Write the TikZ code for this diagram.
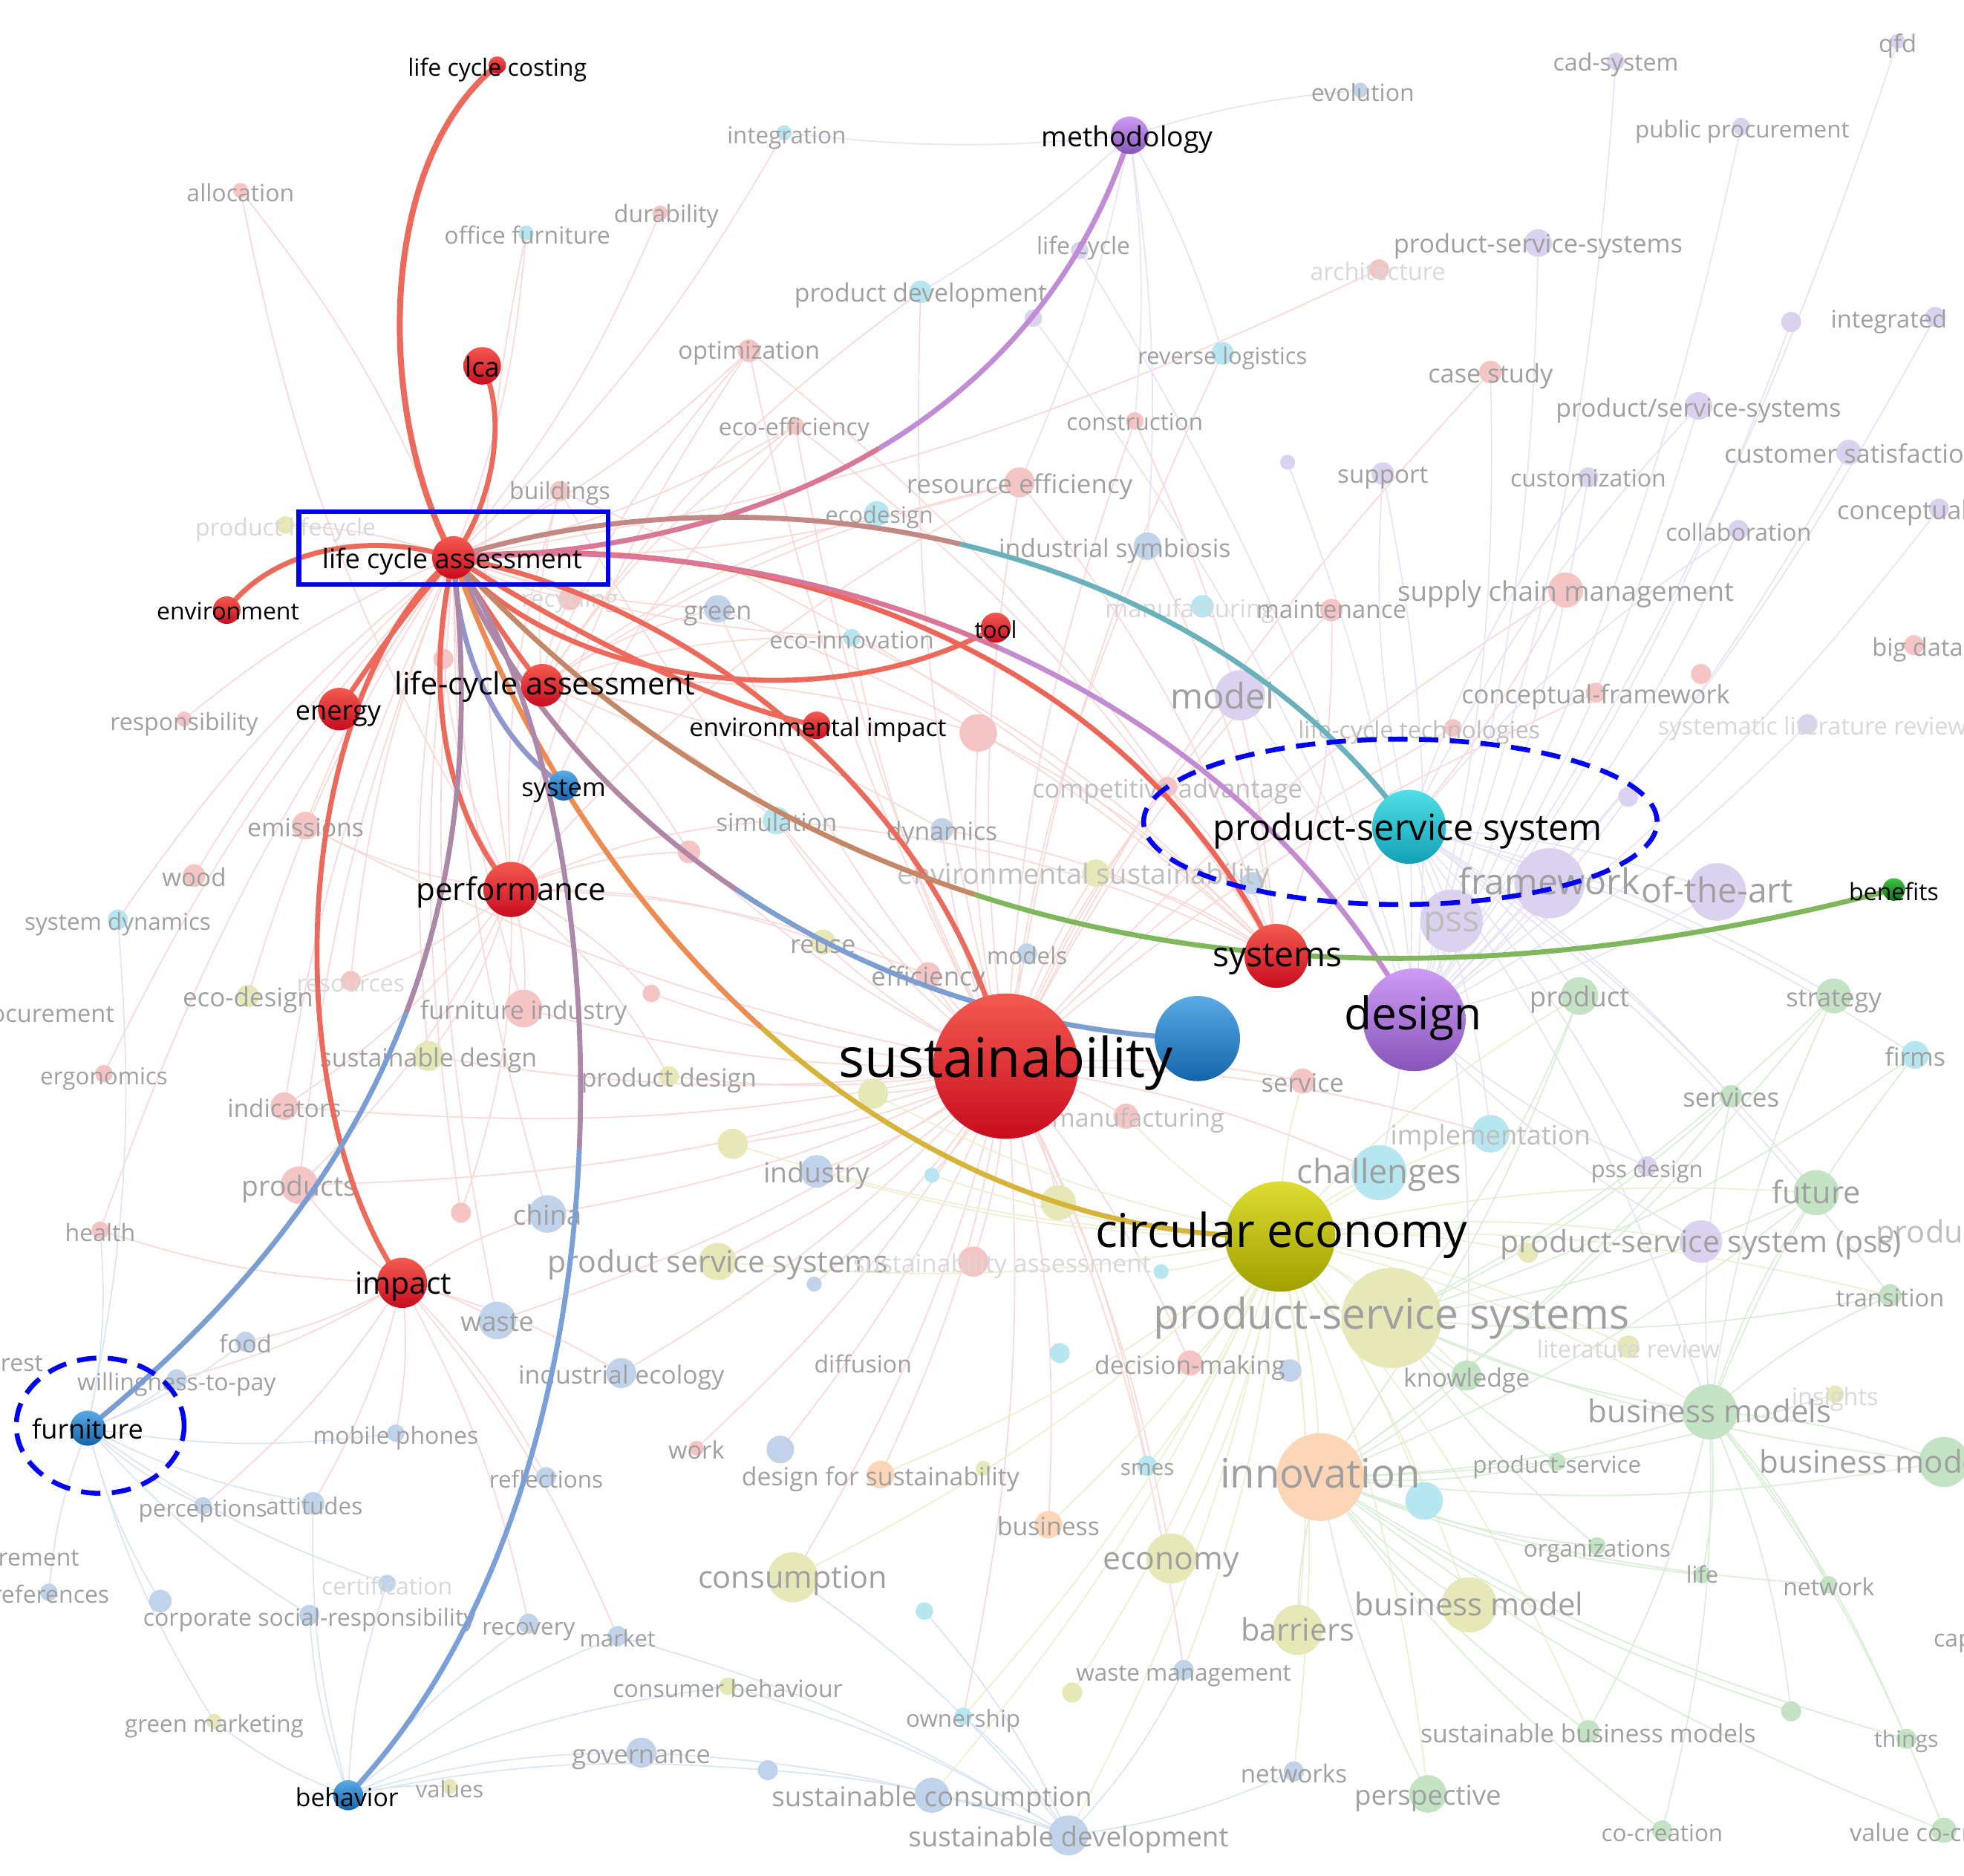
\documentclass[tikz,border=0pt]{standalone}
\usepackage{fontspec}
\setmainfont{Open Sans}
\usetikzlibrary{shapes.geometric}
\definecolor{fpink}{RGB}{245,196,196}
\definecolor{fcyan}{RGB}{182,230,239}
\definecolor{fblue}{RGB}{192,211,234}
\definecolor{fpurp}{RGB}{219,210,240}
\definecolor{folive}{RGB}{230,232,184}
\definecolor{fgreen}{RGB}{196,227,196}
\definecolor{forange}{RGB}{252,214,182}
\definecolor{lg}{RGB}{160,160,160}
\definecolor{mg}{RGB}{190,190,190}
\definecolor{gg}{RGB}{216,216,216}
\definecolor{webpink}{RGB}{249,216,216}
\definecolor{webgreen}{RGB}{218,237,214}
\definecolor{webpurp}{RGB}{232,226,245}
\definecolor{webblue}{RGB}{218,229,243}
\definecolor{webolive}{RGB}{238,238,208}
\definecolor{salmon}{RGB}{236,106,92}
\definecolor{hrtop}{RGB}{244,90,80}
\definecolor{hrbot}{RGB}{200,12,30}
\definecolor{hbtop}{RGB}{90,170,230}
\definecolor{hbbot}{RGB}{20,100,170}
\definecolor{hptop}{RGB}{205,155,245}
\definecolor{hpbot}{RGB}{135,85,185}
\definecolor{hctop}{RGB}{80,222,232}
\definecolor{hcbot}{RGB}{20,160,180}
\definecolor{hotop}{RGB}{220,220,50}
\definecolor{hobot}{RGB}{160,160,0}
\definecolor{hgtop}{RGB}{70,190,70}
\definecolor{hgbot}{RGB}{10,120,20}
\definecolor{markblue}{RGB}{0,0,245}
\pgfdeclarelayer{web}
\pgfdeclarelayer{faded}
\pgfdeclarelayer{hedges}
\pgfsetlayers{web,faded,hedges,main}
\tikzset{
  fdot/.style={circle,inner sep=0pt,draw=none},
  flab/.style={inner sep=0pt,text height=0.72em,text depth=0.22em},
  hnode/.style={circle,inner sep=0pt,draw=none},
  hred/.style={hnode,top color=hrtop,bottom color=hrbot},
  hblue/.style={hnode,top color=hbtop,bottom color=hbbot},
  hpurp/.style={hnode,top color=hptop,bottom color=hpbot},
  hcyan/.style={hnode,top color=hctop,bottom color=hcbot},
  holive/.style={hnode,top color=hotop,bottom color=hobot},
  hgreen/.style={hnode,top color=hgtop,bottom color=hgbot},
  hlab/.style={inner sep=0pt,text=black,text height=0.72em,text depth=0.22em},
  hedge/.style={line width=1.15pt,line cap=round},
  hseg/.style={line width=1.15pt,line cap=butt},
  webline/.style={line width=0.28pt},
  markring/.style={draw=markblue,line width=1.1pt,dash pattern=on 4.4pt off 2.6pt,ellipse,inner sep=0pt},
}
\begin{document}
\begin{tikzpicture}[x=0.1mm,y=-0.1mm]
\useasboundingbox (0,0) rectangle (1568,1497);
\begin{pgfonlayer}{web}
\fill[white] (0,0) rectangle (1568,1497);
\end{pgfonlayer}

% ---------------- faded keyword dots ----------------
\begin{pgfonlayer}{faded}
\foreach \n/\x/\y/\r/\c in {
alloc/192/152/6/fpink, offf/420/186/6/fcyan, integ/626/106/6/fcyan, dura/527/170/6/fpink,
lifec/862/200/7/fpurp, proddev/735/233/9/fcyan, purpA/825/254/7/fpurp, optim/598/280/9/fpink,
ecoeff/635/340/7/fpink, constr/906/336/7/fpink, revlog/976/282/9/fcyan, reseff/814/385/12/fpink,
ecodes/700/410/10/fcyan, build/447/392/8/fpink, prodlc/228/419/7/folive, recyc/455/478/9/fpink,
pinkA/354/526/8/fpink, green/573/486/11/fblue, ecoinn/680/509/7/fcyan, indsym/916/436/11/fblue,
manuf/960/484/9/fcyan, maint/1063/487/9/fpink, purpB/1028/369/6/fpurp, support/1104/378/9/fpurp,
evol/1086/72/6/fblue, cad/1290/49/7/fpurp, qfd/1515/33/6/fpurp, pubproc/1390/101/7/fpurp,
pssh/1228/194/11/fpurp, archi/1101/215/8/fpink, casest/1190/297/9/fpink, integr/1545/253/8/fpurp,
purpC/1430/257/8/fpurp, pssl/1356/324/11/fpurp, custom/1268/381/8/fpurp, custsat/1476/361/10/fpurp,
concept/1548/406/8/fpurp, collab/1388/423/8/fpurp, scm/1250/471/14/fpink, bigdata/1528/515/8/fpink,
concfw/1274/553/8/fpink, pinkB/1358/538/8/fpink, slr/1443/578/8/fpurp, lctech/1160/581/7/fpink,
model/990/555/20/fpurp, pinkC/781/585/15/fpink, compadv/932/628/8/fpink, simul/620/655/11/fcyan,
dynam/752/662/9/fblue, envsust/875/697/11/folive, pinkD/550/680/9/fpink, reuse/657/752/10/folive,
effic/741/778/10/fpink, models/820/761/8/fblue, blueE/1000/705/9/fblue, framew/1237/705/28/fpurp,
ofart/1371/712/23/fpurp, pssn/1159/735/25/fpurp, purpD/1300/636/8/fpurp, product/1261/795/15/fgreen,
strategy/1464/795/14/fgreen, firms/1529/842/11/fcyan, services/1382/875/9/fgreen, service/1040/863/10/fpink,
reman/899/891/10/fpink, implem/1190/905/15/fcyan, challenges/1101/936/22/fcyan, pssdes/1315/931/8/fpurp,
future/1450/952/18/fgreen, pssp/1358/991/17/fpurp, oliveA/1220/1000/8/folive, transition/1509/1034/9/fgreen,
pss2/1111/1052/40/folive, litrev/1300/1075/9/folive, knowledge/1171/1098/12/fgreen, insights/1465/1113/7/folive,
bmodels/1365/1127/22/fgreen, bmodi/1552/1167/20/fgreen, prodserv/1243/1167/7/fgreen, innov/1054/1179/35/forange,
cyanF/1137/1198/15/fcyan, organiz/1275/1234/7/fgreen, life/1359/1257/7/fgreen, network/1460/1265/7/fgreen,
bmodel/1173/1281/22/folive, barriers/1036/1301/20/folive, greenA/1430/1366/8/fgreen, sbm/1268/1382/9/fgreen,
things/1522/1388/8/fgreen, persp/1140/1432/15/fgreen, networks/1033/1414/8/fblue, cocre/1327/1461/8/fgreen,
valueco/1552/1461/10/fgreen, economy/935/1244/20/folive, business/837/1217/11/forange, smes/916/1170/8/fcyan,
decis/950/1088/10/fpink, blueB/1030/1094/9/fblue, cyanC/846/1080/8/fcyan, wastem/945/1333/8/fblue,
oliveD/856/1351/8/folive, ownership/769/1370/7/fcyan, scons/744/1433/14/fblue, sdev/853/1465/16/fblue,
consum/633/1259/20/folive, cyanE/738/1286/7/fcyan, dfs/703/1177/11/forange, oliveF/785/1172/6/folive,
work/556/1156/6/fpink, blueG/623/1157/11/fblue, indeco/496/1096/12/fblue, food/196/1071/8/fblue,
waste/397/1054/15/fblue, pssys/573/1007/15/folive, sassess/777/1007/12/fpink, cyanH/927/1015/6/fcyan,
blueI/650/1025/6/fblue, china/437/969/15/fblue, pinkJ/368/968/8/fpink, industry/652/935/13/fblue,
cyanK/744/938/6/fcyan, oliveL/585/913/12/folive, oliveM/845/960/14/folive, oliveN/697/873/12/folive,
proddes/534/859/8/folive, products/239/946/15/fpink, indicators/227/883/11/fpink, health/80/982/7/fpink,
ergon/83/857/7/fpink, ecodesign/198/795/9/folive, resources/280/783/8/fpink, furnind/418/805/15/fpink,
pinkO/520/793/7/fpink, susdes/342/843/12/folive, sysdyn/94/734/8/fcyan, wood/155/699/9/fpink,
emiss/244/659/11/fpink, respons/147/574/6/fpink, willing/141/1101/8/fblue, mobile/316/1144/7/fblue,
percep/162/1202/7/fblue, attit/250/1200/9/fblue, reflect/436/1179/8/fblue, prefer/39/1271/7/fblue,
blueP/128/1278/9/fblue, certif/309/1264/7/fblue, csr/247/1289/8/fblue, recovery/422/1296/8/fblue,
market/493/1306/8/fblue, consbeh/581/1346/7/folive, govern/512/1399/12/fblue, blueQ/613/1413/8/fblue,
greenmkt/171/1374/6/folive, values/359/1426/6/folive}
  \node[fdot,fill=\c,minimum size=\r*0.2mm] (\n) at (\x,\y) {};

% ---------------- faded keyword labels ----------------
\foreach \x/\y/\s/\t/\c/\a [count=\i] in {
192/152/5.4/allocation/lg/center, 421/186/5.4/office furniture/lg/center, 628/106/5.3/integration/lg/center,
532/169/5.4/durability/lg/center, 865/194/5.4/life cycle/lg/center, 735/232/5.7/product development/lg/center,
598/278/5.5/optimization/lg/center, 634/339/5.4/eco-efficiency/lg/center, 906/335/5.3/construction/lg/center,
976/282/5.2/reverse logistics/lg/center, 814/385/5.9/resource efficiency/lg/center, 702/409/5.2/ecodesign/lg/center,
447/390/5.4/buildings/lg/center, 228/419/5.4/product lifecycle/gg/center, 455/476/5.4/recycling/gg/center,
573/486/5.8/green/lg/center, 680/509/5.4/eco-innovation/lg/center, 890/436/5.7/industrial symbiosis/lg/center,
950/484/5.6/manufacturing/gg/center, 1063/485/5.6/maintenance/lg/center, 1104/377/5.6/support/lg/center,
1088/72/5.4/evolution/lg/center, 1290/48/5.4/cad-system/lg/center, 1515/33/5.5/qfd/lg/center,
1391/101/5.3/public procurement/lg/center, 1228/193/5.8/product-service-systems/lg/center,
1100/215/5.5/architecture/gg/center, 1190/297/5.8/case study/lg/center, 1508/253/5.5/integrated/lg/center,
1356/324/5.7/{product/service-systems}/lg/center, 1268/380/5.4/customization/lg/center,
1376/361/5.8/customer satisfaction/lg/west, 1466/406/5.8/conceptual model/lg/west,
1388/423/5.4/collaboration/lg/center, 1250/471/6.2/supply chain management/lg/center,
1494/515/5.5/big data/lg/west, 1274/553/5.8/conceptual-framework/lg/center,
1323/578/5.5/systematic literature review/gg/west, 1133/581/5.4/life-cycle technologies/mg/center,
976/557/8/model/lg/center, 932/628/5.8/competitive advantage/mg/center, 620/655/5.6/simulation/lg/center,
752/662/5.7/dynamics/lg/center, 865/697/6.4/environmental sustainability/mg/center, 657/752/5.7/reuse/lg/center,
741/778/5.9/efficiency/lg/center, 820/761/5.3/models/lg/center, 1237/705/8.1/framework/lg/center,
1371/712/7.8/of-the-art/lg/center, 1159/735/8.2/pss/mg/center, 1261/795/6.2/product/lg/center,
1464/795/5.8/strategy/lg/center, 1529/842/5.7/firms/lg/center, 1382/875/5.9/services/lg/center,
1040/863/5.8/service/lg/center, 899/891/5.7/remanufacturing/mg/center, 1190/905/6.1/implementation/mg/center,
1101/936/7.6/challenges/lg/center, 1315/931/5.2/pss design/lg/center, 1450/952/7/future/lg/center,
1497/983/7/products/mg/west, 1358/991/6.9/product-service system (pss)/lg/center, 1509/1034/5.5/transition/lg/center,
1111/1052/9.6/product-service systems/lg/center, 1300/1075/5.5/literature review/gg/center,
1171/1098/5.7/knowledge/lg/center, 1465/1113/5.5/insights/gg/center, 1365/1127/7.1/business models/lg/center,
1404/1167/7.1/business model innovation/lg/west, 1243/1167/5.3/product-service/lg/center,
1054/1179/9.2/innovation/lg/center, 1275/1234/5.3/organizations/lg/center, 1359/1255/5.2/life/lg/center,
1460/1265/5.4/network/lg/center, 1543/1306/5.4/capabilities/lg/west, 1173/1281/7.1/business model/lg/center,
1036/1301/7/barriers/lg/center, 1268/1382/5.7/sustainable business models/lg/center, 1522/1386/5.1/things/lg/center,
1140/1432/6.2/perspective/lg/center, 1033/1414/5.6/networks/lg/center, 1327/1461/5.3/co-creation/lg/center,
1476/1461/5.5/value co-creation/lg/west, 935/1244/7.2/economy/lg/center, 837/1217/5.7/business/lg/center,
916/1169/5/smes/lg/center, 950/1088/5.7/decision-making/lg/center, 945/1333/5.3/waste management/lg/center,
769/1370/5.3/ownership/lg/center, 744/1433/6.2/sustainable consumption/lg/center,
853/1465/6.2/sustainable development/lg/center, 633/1259/7/consumption/lg/center,
703/1177/5.7/design for sustainability/lg/center, 556/1156/5.5/work/lg/center, 689/1087/5.4/diffusion/lg/center,
496/1096/5.7/industrial ecology/lg/center, 196/1071/5.5/food/lg/center, 397/1054/6.1/waste/lg/center,
573/1007/6.9/product service systems/lg/center, 800/1007/5.7/sustainability assessment/gg/center,
437/969/6.2/china/lg/center, 652/935/6.3/industry/lg/center, 534/859/5.7/product design/lg/center,
239/946/6.3/products/lg/center, 227/883/5.6/indicators/lg/center, 80/982/5.4/health/lg/center,
83/857/5.3/ergonomics/lg/center, 92/807/5.5/procurement/lg/east, 198/795/5.9/eco-design/lg/center,
280/783/5.4/resources/gg/center, 418/805/5.7/furniture industry/lg/center, 342/843/5.7/sustainable design/lg/center,
94/734/5.3/system dynamics/lg/center, 155/699/5.6/wood/lg/center, 244/659/5.7/emissions/lg/center,
147/574/5.4/responsibility/lg/center, 141/1101/5.4/willingness-to-pay/lg/center, 35/1086/5.4/interest/lg/east,
316/1144/5.4/mobile phones/lg/center, 162/1202/5.3/perceptions/lg/center, 251/1200/5.3/attitudes/lg/center,
436/1179/5.3/reflections/lg/center, 64/1241/5.4/measurement/lg/east, 88/1271/5.4/preferences/lg/east,
309/1264/5.4/certification/gg/center, 247/1289/5.4/corporate social-responsibility/lg/center,
422/1296/5.3/recovery/lg/center, 493/1306/5.2/market/lg/center, 581/1346/5.4/consumer behaviour/lg/center,
512/1399/5.8/governance/lg/center, 171/1374/5.3/green marketing/lg/center, 359/1426/5.2/values/lg/center}
  \node[flab,text=\c,anchor=\a,font={\fontsize{\s}{\s}\selectfont}] (fl\i) at (\x,\y) {\t};
\end{pgfonlayer}

% ---------------- highlighted keyword circles ----------------
\node[hred,minimum size=1.4mm] (costing) at (397,52) {};
\node[hpurp,minimum size=3.0mm] (methodology) at (902,108) {};
\node[hred,minimum size=3.0mm] (lcasmall) at (385,292) {};
\node[hred,minimum size=3.4mm] (lca) at (362,445) {};
\node[hred,minimum size=2.2mm] (environment) at (181,487) {};
\node[hred,minimum size=3.4mm] (energy) at (271,566) {};
\node[hred,minimum size=3.4mm] (lcah) at (433,547) {};
\node[hred,minimum size=2.2mm] (envimp) at (652,579) {};
\node[hred,minimum size=2.4mm] (tool) at (795,501) {};
\node[hblue,minimum size=2.4mm] (system) at (450,627) {};
\node[hred,minimum size=4.4mm] (perf) at (408,710) {};
\node[hred,minimum size=11.6mm] (sust) at (803,851) {};
\node[hblue,minimum size=6.8mm] (bluebig) at (956,829) {};
\node[hred,minimum size=5.1mm] (systems) at (1019,763) {};
\node[hcyan,minimum size=5.9mm] (psys) at (1125,660) {};
\node[hpurp,minimum size=8.2mm] (design) at (1129,814) {};
\node[holive,minimum size=8.8mm] (circ) at (1022,987) {};
\node[hgreen,minimum size=1.8mm] (benefits) at (1512,710) {};
\node[hred,minimum size=4.0mm] (impact) at (321,1024) {};
\node[hblue,minimum size=2.8mm] (furniture) at (70,1140) {};
\node[hblue,minimum size=2.4mm] (behavior) at (278,1433) {};

% ---------------- highlighted labels ----------------
\foreach \n/\x/\y/\s/\t in {
costing/397/52/5.4/life cycle costing, methodology/900/108/6.3/methodology, lcasmall/385/292/6.1/lca,
lca/361/445/6.1/life cycle assessment, environment/182/486/5.4/environment, energy/270/566/6.1/energy,
lcah/435/546/7.0/life-cycle assessment, envimp/653/579/5.7/environmental impact, tool/795/501/5.3/tool,
system/450/627/5.8/system, perf/408/710/7.1/performance, sust/803/851/12.4/sustainability,
systems/1020/763/7.8/systems, psys/1124/662/8.2/product-service system, design/1128/813/10.2/design,
circ/1023/987/10.6/circular economy, benefits/1512/710/5.4/benefits, impact/322/1024/6.9/impact,
furniture/70/1140/6.1/furniture, behavior/277/1433/5.7/behavior}
  \node[hlab,font={\fontsize{\s}{\s}\selectfont}] (lab\n) at (\x,\y) {\t};

% ---------------- faint background web ----------------
\begin{pgfonlayer}{web}
\foreach \b in {reseff,indsym,simul,dynam,envsust,reuse,effic,models,service,reman,industry,proddes,pssys,
  china,waste,furnind,susdes,products,indicators,emiss,green,ecoinn,compadv,maint,scm,concfw,model,challenges,
  implem,dfs,business,smes,decis,economy,consum,indeco,optim,ecoeff,constr,build,pinkC,pinkD,oliveL,oliveM,
  oliveN,sassess,work,blueG,wastem,ownership,revlog,casest,proddev,lctech,pinkO,cyanK,blueI}
  \draw[webline,draw=webpink] (sust.center) to[bend left=8] (\b.center);
\foreach \b in {alloc,offf,dura,build,prodlc,recyc,pinkA,optim,ecoeff,emiss,wood,respons,resources,furnind,
  susdes,products,indicators,health,ergon,ecodesign,sysdyn,china,waste,pinkJ,green,ecoinn,reseff,archi,integ}
  \draw[webline,draw=webpink] (lca.center) to[bend right=8] (\b.center);
\foreach \b in {alloc,offf,optim,ecoeff,build,reseff,emiss,furnind,products,indicators,pinkA,pinkJ,resources,susdes,
  simul,reuse,effic,pinkD,pinkO,proddes}
  \draw[webline,draw=webpink] (perf.center) to[bend left=10] (\b.center);
\foreach \b in {reseff,indsym,optim,ecoeff,constr,build,maint,scm,compadv,pinkC,envsust,green,ecoinn,simul,dynam}
  \draw[webline,draw=webpink] (systems.center) to[bend right=10] (\b.center);
\foreach \b in {optim,ecoeff,reseff,ecodes,green,ecoinn,simul,dynam,pinkC,pinkD,proddev,build,recyc}
  \draw[webline,draw=webpink] (lcah.center) to[bend left=10] (\b.center);
\foreach \b in {pss2,innov,challenges,implem,economy,bmodel,barriers,knowledge,bmodels,consum,dfs,business,
  scons,sdev,wastem,decis,smes,product,future,pssp,transition,litrev,oliveA,cyanF,persp,sbm,networks,
  ownership,oliveD,oliveM,oliveL,pssys,oliveN,industry,cyanK,cyanH,reman,service}
  \draw[webline,draw=webolive] (circ.center) to[bend left=8] (\b.center);
\foreach \b in {framew,ofart,pssn,model,support,custom,pssl,pssh,collab,custsat,concept,purpD,pssdes,pssp,
  slr,lifec,purpA,purpB,cad,pubproc,qfd,integr,purpC,casest}
  \draw[webline,draw=webpurp] (design.center) to[bend right=8] (\b.center);
\foreach \b in {framew,pssn,ofart,product,strategy,services,future,firms,pssdes,implem,challenges,bmodels,
  transition,knowledge,pssl,custom,support,collab}
  \draw[webline,draw=webpurp] (psys.center) to[bend left=8] (\b.center);
\foreach \b in {bmodels,bmodi,prodserv,organiz,life,network,sbm,things,cocre,valueco,greenA,persp,bmodel,
  barriers,knowledge,insights,product,strategy,future,services}
  \draw[webline,draw=webgreen] (innov.center) to[bend right=8] (\b.center);
\foreach \b in {bmodi,strategy,future,network,things,sbm,transition,cocre,firms,services,greenA,valueco,life}
  \draw[webline,draw=webgreen] (bmodels.center) to[bend left=8] (\b.center);
\foreach \b in {product,strategy,future,bmodels,bmodi,knowledge,transition,services,firms,organiz,prodserv}
  \draw[webline,draw=webgreen] (pss2.center) to[bend right=8] (\b.center);
\foreach \b in {food,willing,mobile,waste,indeco,reflect,china,percep,attit,products,health,market,recovery}
  \draw[webline,draw=webpink] (impact.center) to[bend left=8] (\b.center);
\foreach \b in {willing,food,percep,attit,prefer,blueP,csr,certif,mobile,greenmkt,sysdyn,health}
  \draw[webline,draw=webblue] (furniture.center) to[bend right=8] (\b.center);
\foreach \b in {values,govern,recovery,market,csr,certif,attit,greenmkt,blueQ,consbeh}
  \draw[webline,draw=webblue] (behavior.center) to[bend left=8] (\b.center);
\foreach \b in {scons,blueQ,govern,networks,wastem,ownership,consbeh,consum,cyanE,market}
  \draw[webline,draw=webblue] (sdev.center) to[bend right=8] (\b.center);
\foreach \b in {integ,proddev,revlog,lifec,evol,purpA,constr,reseff,indsym}
  \draw[webline,draw=webpurp] (methodology.center) to[bend left=6] (\b.center);
\end{pgfonlayer}

% ---------------- highlighted connectors ----------------
\begin{pgfonlayer}{hedges}
\draw[hedge,draw=salmon,line width=1.35pt] (lca.center) .. controls (300,330) and (300,130) .. (costing.center);
\draw[hedge,draw=salmon] (lca.center) .. controls (395,400) and (405,330) .. (lcasmall.center);
\draw[hedge,draw=salmon] (lca.center) .. controls (300,425) and (220,435) .. (environment.center);
\draw[hedge,draw=salmon] (lca.center) .. controls (330,480) and (295,530) .. (energy.center);
\draw[hedge,draw=salmon] (lca.center) .. controls (385,480) and (410,520) .. (lcah.center);
\draw[hedge,draw=salmon] (lca.center) .. controls (450,500) and (560,560) .. (envimp.center);
\draw[hedge,draw=salmon] (lca.center) .. controls (440,540) and (650,580) .. (tool.center);
\draw[hedge,draw=salmon] (lca.center) .. controls (560,480) and (760,650) .. (sust.center);
\draw[hedge,draw=salmon!95!red] (lca.center) .. controls (620,420) and (900,520) .. (systems.center);
\draw[hedge,draw=salmon] (lca.center) .. controls (340,540) and (350,640) .. (perf.center);
\draw[hedge,draw=salmon] (lca.center) .. controls (230,560) and (220,880) .. (impact.center);
\draw[hedge,draw={rgb,255:red,145;green,150;blue,205}] (lca.center) .. controls (365,520) and (395,590) .. (system.center);
% methodology
\coordinate (mMeth) at (701.75,357.9);
\draw[hseg,draw={rgb,255:red,218;green,118;blue,150}] (lca.center) .. controls (491,442.5) and (608,413.75) .. (mMeth);
\draw[hseg,draw={rgb,255:red,192;green,140;blue,214}] (mMeth) .. controls (795.5,302) and (866,219) .. (methodology.center);
% product-service system
\coordinate (mPss) at (767,434.4);
\draw[hseg,draw={rgb,255:red,196;green,136;blue,132}] (lca.center) .. controls (481,407.5) and (628,401.25) .. (mPss);
\draw[hseg,draw={rgb,255:red,105;green,178;blue,188}] (mPss) .. controls (906.25,467.5) and (1037.5,540) .. (psys.center);
% design
\coordinate (mDes) at (797.5,517.2);
\draw[hseg,draw={rgb,255:red,218;green,118;blue,150}] (lca.center) .. controls (506,432.5) and (660.5,456.25) .. (mDes);
\draw[hseg,draw={rgb,255:red,196;green,140;blue,208}] (mDes) .. controls (934.5,578.25) and (1054,676.5) .. (design.center);
% benefits
\coordinate (mBen) at (778,713.9);
\draw[hseg,draw={rgb,255:red,196;green,136;blue,104}] (lca.center) .. controls (456,547.5) and (590.5,653.75) .. (mBen);
\draw[hseg,draw={rgb,255:red,128;green,182;blue,92}] (mBen) .. controls (965.5,775) and (1206,790) .. (benefits.center);
% blue node
\coordinate (mBlu) at (588.4,710.4);
\draw[hseg,draw={rgb,255:red,176;green,136;blue,166}] (lca.center) .. controls (406,547.5) and (485.5,641.25) .. (mBlu);
\draw[hseg,draw={rgb,255:red,125;green,158;blue,208}] (mBlu) .. controls (691.25,779.5) and (817.5,824) .. (bluebig.center);
% circular economy
\coordinate (mCir) at (608,820.25);
\draw[hseg,draw={rgb,255:red,236;green,140;blue,82}] (lca.center) .. controls (411,582.5) and (495.5,718.75) .. (mCir);
\draw[hseg,draw={rgb,255:red,214;green,180;blue,58}] (mCir) .. controls (720.5,921.75) and (861,988.5) .. (circ.center);
% furniture
\coordinate (mFur) at (324,809);
\draw[hseg,draw={rgb,255:red,172;green,136;blue,168}] (lca.center) .. controls (376,572.5) and (368,693.75) .. (mFur);
\draw[hseg,draw={rgb,255:red,122;green,158;blue,212}] (mFur) .. controls (280,925) and (200,1035) .. (furniture.center);
% behavior
\coordinate (mBeh) at (462.5,917);
\draw[hseg,draw={rgb,255:red,172;green,136;blue,170}] (lca.center) .. controls (431,542.5) and (470.5,726.25) .. (mBeh);
\draw[hseg,draw={rgb,255:red,122;green,160;blue,215}] (mBeh) .. controls (454.5,1108.25) and (399,1306.5) .. (behavior.center);
\end{pgfonlayer}

% ---------------- annotation marks ----------------
\node[draw=markblue,line width=1.1pt,rectangle,inner sep=0pt,minimum width=24.7mm,minimum height=5.8mm] (lcabox) at (362,437.5) {};
\node[markring,minimum width=41mm,minimum height=13.2mm] (pssring) at (1118,656) {};
\node[markring,minimum width=13.4mm,minimum height=10.8mm] (furnring) at (80,1138) {};
\end{tikzpicture}
\end{document}
